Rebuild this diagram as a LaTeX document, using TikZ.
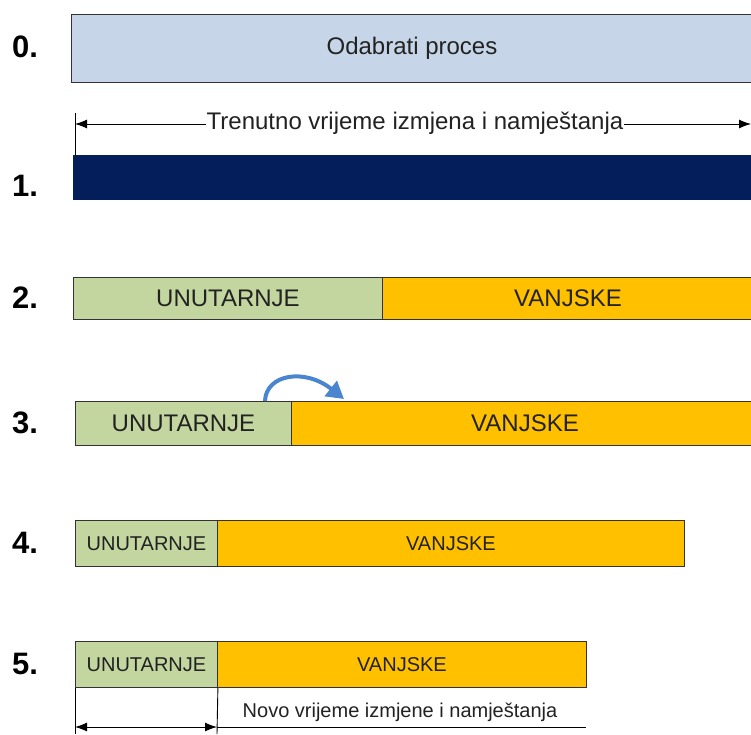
\documentclass[tikz,border=0pt]{standalone}
\usepackage{fontspec}
\setmainfont{Liberation Sans}
\usetikzlibrary{arrows.meta}
\definecolor{lblue}{RGB}{198,214,232}
\definecolor{navy}{RGB}{4,30,92}
\definecolor{lgreen}{RGB}{196,214,160}
\definecolor{gold}{RGB}{255,192,0}
\definecolor{txt}{RGB}{34,34,34}
\definecolor{arrblue}{RGB}{74,134,208}
\tikzset{
  bar/.style={draw=black!80, line width=0.9pt, inner sep=0pt, anchor=north west, text=txt},
  num/.style={anchor=west, font=\fontsize{31}{31}\selectfont\bfseries, inner sep=0pt},
  big/.style={font=\fontsize{24}{24}\selectfont},
  small/.style={font=\fontsize{20}{20}\selectfont},
  dim/.style={line width=0.9pt, {Latex[length=12pt,width=9pt]}-{Latex[length=12pt,width=9pt]}},
  thin/.style={line width=0.9pt},
}
\begin{document}
\begin{tikzpicture}[x=1pt,y=-1pt]
\useasboundingbox (0,0) rectangle (751,734);
\clip (0,0) rectangle (751,734);
\fill[white] (0,0) rectangle (751,734);
% labels
\node[num] (n0) at (12,47) {0.};
\node[num] (n1) at (12,186) {1.};
\node[num] (n2) at (12,298) {2.};
\node[num] (n3) at (12,423) {3.};
\node[num] (n4) at (12,543) {4.};
\node[num] (n5) at (12,664) {5.};
% row 0
\node[bar, big, fill=lblue, minimum width=700pt, minimum height=68pt] (p0) at (71,14) {};
\node[big, text=txt] (t0) at (412,48) {Odabrati proces};
% row 1
\coordinate (k1a) at (75,113);
\coordinate (k1b) at (75,155);
\draw[thin] (k1a) -- (k1b);
\coordinate (d1a) at (75,124);
\coordinate (d1b) at (751,124);
\draw[dim] (d1a) -- (d1b);
\node[big, fill=white, inner xsep=1pt, inner ysep=3pt, text=txt] (t1) at (415,123) {Trenutno vrijeme izmjena i namještanja};
\node[bar, draw=none, fill=navy, minimum width=700pt, minimum height=45pt] (p1) at (73,155) {};
% row 2
\node[bar, big, fill=lgreen, minimum width=309pt, minimum height=42pt] (g2) at (73,277) {UNUTARNJE};
\node[bar, big, fill=gold, minimum width=400pt, minimum height=42pt] (o2) at (382,277) {};
\node[big, text=txt] (v2) at (568,298) {VANJSKE};
% row 3
\node[bar, big, fill=lgreen, minimum width=216pt, minimum height=44pt] (g3) at (75,401) {UNUTARNJE};
\node[bar, big, fill=gold, minimum width=480pt, minimum height=44pt] (o3) at (291,401) {};
\node[big, text=txt] (v3) at (525,423) {VANJSKE};
\coordinate (c3s) at (265,401);
\coordinate (c3e) at (344,399);
\draw[arrblue, line width=4pt, -{Triangle[length=17pt,width=19pt]}] (c3s) .. controls (266,374) and (305,368) .. (c3e);
% row 4
\node[bar, small, fill=lgreen, minimum width=142pt, minimum height=46pt] (g4) at (75,520) {UNUTARNJE};
\node[bar, small, fill=gold, minimum width=467pt, minimum height=46pt] (o4) at (217,520) {VANJSKE};
% row 5
\node[bar, small, fill=lgreen, minimum width=142pt, minimum height=46pt] (g5) at (75,641) {UNUTARNJE};
\node[bar, small, fill=gold, minimum width=369pt, minimum height=46pt] (o5) at (217,641) {VANJSKE};
\coordinate (v5a) at (75,734);
\coordinate (v5b) at (217,734);
\draw[thin] (g5.south west) -- (v5a);
\draw[thin] (g5.south east) -- (v5b);
\coordinate (a5a) at (75,727);
\coordinate (a5b) at (217,727);
\draw[dim] (a5a) -- (a5b);
\coordinate (l5b) at (586,727);
\draw[thin] (a5b) -- (l5b);
\node[small, text=txt] (t5) at (400,712) {Novo vrijeme izmjene i namještanja};
\end{tikzpicture}
\end{document}
